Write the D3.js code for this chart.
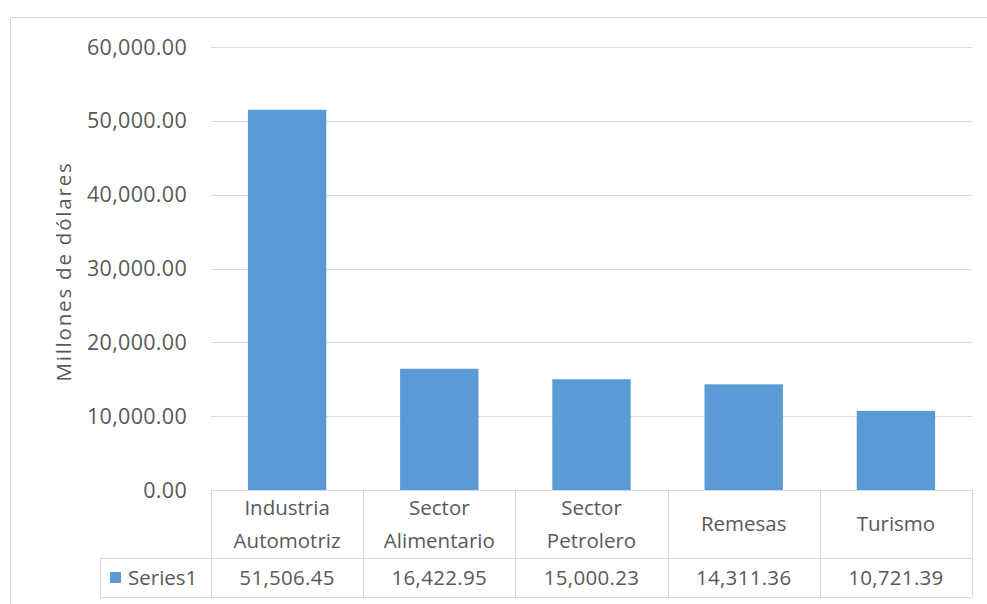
<!DOCTYPE html>
<html><head><meta charset="utf-8">
<script src="https://cdn.jsdelivr.net/npm/d3@7"></script>
<style>body{margin:0;background:#fff}svg{display:block}text{font-family:"Open Sans",sans-serif;fill:#595959}</style>
</head><body><svg id="c" width="987" height="604"></svg>
<script>
const categories = [["Industria","Automotriz"],["Sector","Alimentario"],["Sector","Petrolero"],["Remesas"],["Turismo"]];
const values = [51506.45, 16422.95, 15000.23, 14311.36, 10721.39];
const valueLabels = ["51,506.45","16,422.95","15,000.23","14,311.36","10,721.39"];
const yTicks = [0,10000,20000,30000,40000,50000,60000];
const seriesName = "Series1";
const yTitle = "Millones de dólares";

(function(){
const svg = d3.select("#c");
const color = "#5b9bd5", grid = "#d9d9d9", border = "#d9d9d9";
const pLeft = 211, pRight = 972, pTop = 47, pBottom = 490;
const headerBottom = 558, tableBottom = 597, legendLeft = 100;
const fs = 20.5;

svg.append("path").attr("d", `M10.5,604 L10.5,17.5 L987,17.5`).attr("fill","none").attr("stroke","#d9d9d9").attr("stroke-width",1);

const x = d3.scaleBand().domain(d3.range(values.length)).range([pLeft,pRight]).paddingInner(0.485).paddingOuter(0.2425);
const xc = d3.scaleBand().domain(d3.range(values.length)).range([pLeft,pRight]);
const y = d3.scaleLinear().domain([0,60000]).range([pBottom,pTop]);

svg.append("g").selectAll("line").data(yTicks.filter(d=>d>0)).join("line")
  .attr("x1",pLeft).attr("x2",pRight).attr("y1",d=>Math.round(y(d))+0.5).attr("y2",d=>Math.round(y(d))+0.5)
  .attr("stroke",grid).attr("stroke-width",1);

const fmt = d3.format(",.2f");
svg.append("g").selectAll("text").data(yTicks).join("text")
  .attr("x",187).attr("y",d=>y(d)).attr("dy","0.35em").attr("text-anchor","end")
  .attr("font-size",21.5).attr("letter-spacing",0.3).text(d=>fmt(d));

svg.append("text").attr("transform",`translate(64,${(160+383)/2}) rotate(-90)`)
  .attr("text-anchor","middle").attr("dy","0.35em").attr("font-size",fs).attr("letter-spacing",1.8).text(yTitle);

svg.append("g").selectAll("rect").data(values).join("rect")
  .attr("x",(d,i)=>x(i)).attr("width",x.bandwidth())
  .attr("y",d=>y(d)).attr("height",d=>y(0)-y(d)).attr("fill",color);

const tg = svg.append("g").attr("stroke",border).attr("stroke-width",1).attr("fill","none");
tg.append("line").attr("x1",pLeft).attr("x2",pRight).attr("y1",pBottom+0.5).attr("y2",pBottom+0.5);
tg.append("line").attr("x1",legendLeft).attr("x2",pRight).attr("y1",headerBottom+0.5).attr("y2",headerBottom+0.5);
tg.append("line").attr("x1",legendLeft).attr("x2",pRight).attr("y1",tableBottom+0.5).attr("y2",tableBottom+0.5);
tg.append("line").attr("x1",legendLeft+0.5).attr("x2",legendLeft+0.5).attr("y1",headerBottom).attr("y2",tableBottom);
tg.selectAll("line.v").data(d3.range(values.length+1)).join("line").attr("class","v")
  .attr("x1",i=>Math.round(pLeft+i*xc.step())+0.5).attr("x2",i=>Math.round(pLeft+i*xc.step())+0.5)
  .attr("y1",pBottom).attr("y2",tableBottom);

const cg = svg.append("g").selectAll("text").data(categories).join("text")
  .attr("text-anchor","middle").attr("font-size",fs)
  .attr("x",(d,i)=>xc(i)+xc.bandwidth()/2)
  .attr("y",d=> d.length===2 ? 508 : 524);
cg.selectAll("tspan").data(d=>d).join("tspan")
  .attr("x",function(){return this.parentNode.getAttribute("x");})
  .attr("dy",(d,i)=>i===0?"0.35em":"1.6em").text(d=>d);

svg.append("g").selectAll("text").data(valueLabels).join("text")
  .attr("text-anchor","middle").attr("font-size",fs).attr("letter-spacing",0.3)
  .attr("x",(d,i)=>xc(i)+xc.bandwidth()/2).attr("y",578).attr("dy","0.35em").text(d=>d);

svg.append("rect").attr("x",110).attr("y",572).attr("width",11).attr("height",11).attr("fill",color);
svg.append("text").attr("x",128).attr("y",578).attr("dy","0.35em").attr("font-size",fs).text(seriesName);
})();
</script></body></html>
